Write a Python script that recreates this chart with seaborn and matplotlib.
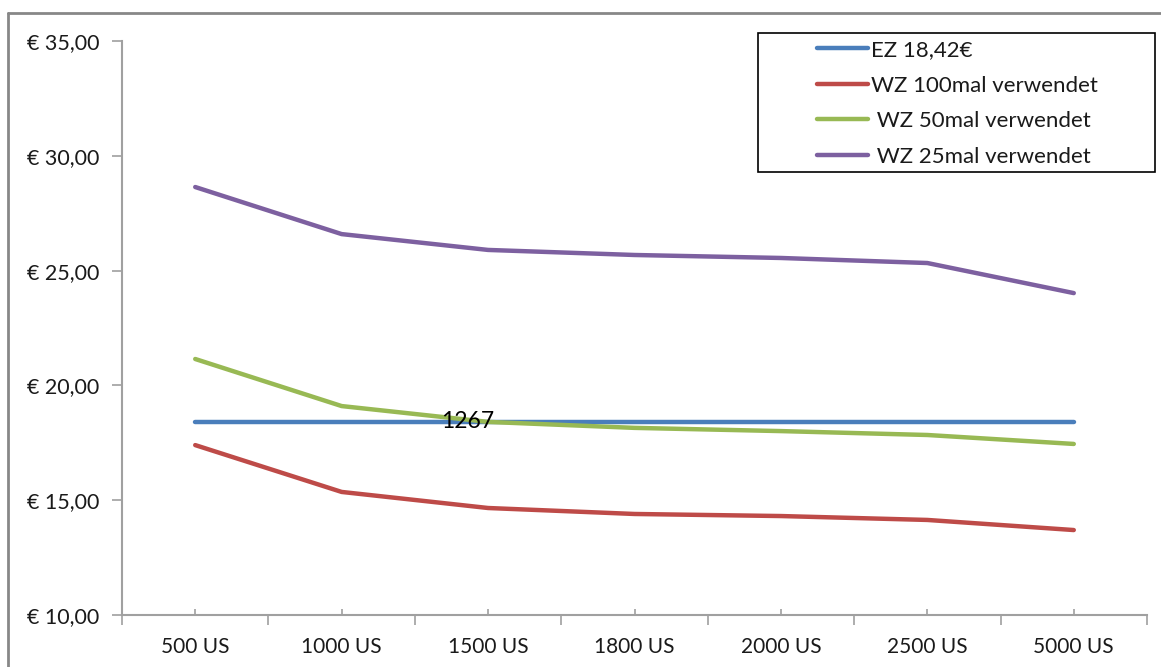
import matplotlib
matplotlib.use("Agg")
import matplotlib.pyplot as plt
from matplotlib.lines import Line2D
from matplotlib.patches import Rectangle
import seaborn as sns
import pandas as pd

# Stückzahlen (categories) and unit costs per variant
categories = ["500 US", "1000 US", "1500 US", "1800 US", "2000 US", "2500 US", "5000 US"]
ez = [18.42, 18.42, 18.42, 18.42, 18.42, 18.42, 18.42]
wz100 = [17.40, 15.36, 14.66, 14.40, 14.31, 14.14, 13.70]
wz50 = [21.15, 19.10, 18.41, 18.15, 18.01, 17.84, 17.45]
wz25 = [28.64, 26.59, 25.90, 25.68, 25.55, 25.33, 24.02]

series_names = ["EZ 18,42€", "WZ 100mal verwendet", " WZ 50mal verwendet", " WZ 25mal verwendet"]
series_values = [ez, wz100, wz50, wz25]
colors = ["#4A7EBB", "#BE4B48", "#98B954", "#7D60A0"]

annotation_text = "1267"
annotation_pos = (1.86, 18.42)

yticks = [10, 15, 20, 25, 30, 35]
ytick_labels = ["€ 10,00", "€ 15,00", "€ 20,00", "€ 25,00", "€ 30,00", "€ 35,00"]

sns.set_style("white")
plt.rcParams["font.family"] = ["Lato", "DejaVu Sans"]

rows = []
for name, vals in zip(series_names, series_values):
    for i, (cat, v) in enumerate(zip(categories, vals)):
        rows.append({"pos": i, "cat": cat, "value": v, "series": name})
df = pd.DataFrame(rows)

fig = plt.figure(figsize=(11.61, 6.67), dpi=100)
ax = fig.add_axes([122 / 1161, 1 - 615 / 667, (1147 - 122) / 1161, (615 - 41) / 667])

sns.lineplot(data=df, x="pos", y="value", hue="series", hue_order=series_names,
             palette=colors, linewidth=3.2, legend=False, ax=ax, sort=False)

ax.set_xlim(-0.5, len(categories) - 0.5)
ax.set_ylim(10, 35)
ax.set_xlabel("")
ax.set_ylabel("")

text_color = "#1a1a1a"
axis_color = "#a0a0a0"

ax.set_yticks(yticks)
ax.set_yticklabels(ytick_labels, fontsize=15.5, color=text_color)
ax.tick_params(axis="y", direction="out", length=7, width=1.2, color=axis_color, pad=9.5, left=True)

# category labels at centers, tick marks at boundaries
ax.set_xticks(range(len(categories)))
ax.set_xticklabels(categories, fontsize=15, color=text_color)
ax.tick_params(axis="x", which="major", direction="in", length=4, width=1.2, color=axis_color, pad=16, bottom=True)
ax.set_xticks([i - 0.5 for i in range(len(categories) + 1)], minor=True)
ax.tick_params(axis="x", which="minor", direction="out", length=7, width=1.2, color=axis_color, bottom=True)

for side in ["top", "right"]:
    ax.spines[side].set_visible(False)
for side in ["left", "bottom"]:
    ax.spines[side].set_color(axis_color)
    ax.spines[side].set_linewidth(1.5)

ax.text(annotation_pos[0], annotation_pos[1], annotation_text, fontsize=16.5,
        color="black", ha="center", va="center")

# legend with its own frame
handles = [Line2D([0], [0], color=c, linewidth=3.2) for c in colors]
leg = fig.legend(handles, series_names, loc="upper left",
                 bbox_to_anchor=(817 / 1161, 1 - 40 / 667),
                 frameon=False, fontsize=16, handlelength=2.3, handletextpad=0.15,
                 labelspacing=0.70, borderpad=0.0, borderaxespad=0.0)
for t in leg.get_texts():
    t.set_color(text_color)
fig.add_artist(Rectangle((758 / 1161, 1 - 172 / 667), (1155 - 758) / 1161, (172 - 33) / 667,
                         transform=fig.transFigure, fill=False, edgecolor="black", linewidth=1.2))

# chart-area border (top and left edges)
fig.add_artist(Line2D([8 / 1161, 8 / 1161], [0, 1 - 13 / 667], transform=fig.transFigure,
                      color="#878787", linewidth=2))
fig.add_artist(Line2D([8 / 1161, 1], [1 - 13 / 667, 1 - 13 / 667], transform=fig.transFigure,
                      color="#878787", linewidth=2))

fig.savefig("out.png", dpi=100)
